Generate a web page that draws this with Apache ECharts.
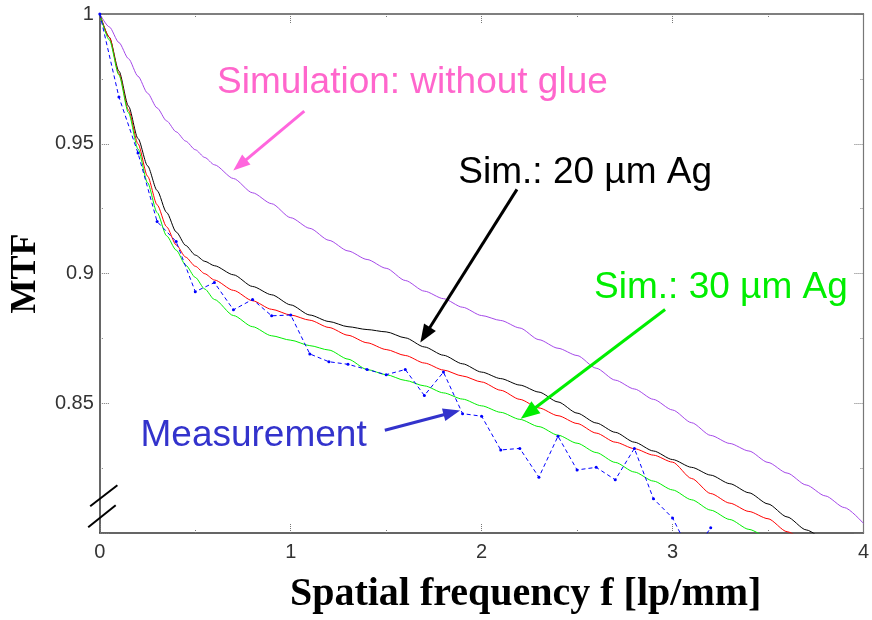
<!DOCTYPE html>
<html>
<head>
<meta charset="utf-8">
<script src="https://cdn.jsdelivr.net/npm/echarts@6/dist/echarts.min.js"></script>
<style>
  html, body { margin: 0; padding: 0; background: #fff; }
  #main { width: 872px; height: 620px; }
</style>
</head>
<body>
<div id="main"></div>
<script>
// spatial frequency grid of the simulations [lp/mm]
var simFreq = [0, 0.05, 0.1, 0.15, 0.2, 0.25, 0.3, 0.35, 0.4, 0.45, 0.5, 0.55, 0.6, 0.7, 0.8, 0.9,
  1.0, 1.1, 1.2, 1.3, 1.4, 1.5, 1.6, 1.7, 1.8, 1.9, 2.0, 2.1, 2.2, 2.3, 2.4, 2.5,
  2.6, 2.7, 2.8, 2.9, 3.0, 3.1, 3.2, 3.3, 3.4, 3.5, 3.6, 3.7, 3.8, 3.9, 4.0];

// Simulation: without glue (purple)
var mtfNoGlue = [1.0, 0.995, 0.989, 0.9828, 0.976, 0.9695, 0.9638, 0.9588, 0.9546, 0.951, 0.9477,
  0.9447, 0.9419, 0.9366, 0.9311, 0.9269, 0.9215, 0.9174, 0.9128, 0.9087, 0.9054, 0.902,
  0.8973, 0.8932, 0.8903, 0.887, 0.8838, 0.8819, 0.879, 0.8745, 0.8712, 0.8684,
  0.8635, 0.8589, 0.8555, 0.8515, 0.8474, 0.8425, 0.8376, 0.8345, 0.8316, 0.8272,
  0.8231, 0.8185, 0.8143, 0.8098, 0.8037];

// Sim.: 20 um Ag (black)
var mtfAg20 = [1.0, 0.991, 0.978, 0.9645, 0.952, 0.9415, 0.932, 0.9235, 0.916, 0.9108, 0.9071,
  0.9047, 0.903, 0.8995, 0.895, 0.8918, 0.8879, 0.884, 0.8815, 0.8795, 0.8784, 0.8775,
  0.8752, 0.8717, 0.8685, 0.8652, 0.862, 0.8595, 0.857, 0.8543, 0.8505, 0.8462,
  0.8424, 0.8388, 0.835, 0.8316, 0.8283, 0.8253, 0.8223, 0.819, 0.8155, 0.8112,
  0.8062, 0.8012, 0.7965];

// red curve (no label)
var mtfRed = [1.0, 0.991, 0.977, 0.963, 0.95, 0.9375, 0.9265, 0.918, 0.911, 0.9063, 0.9028,
  0.8999, 0.8975, 0.8935, 0.8895, 0.8862, 0.884, 0.882, 0.8792, 0.8762, 0.8733, 0.8707,
  0.8684, 0.8655, 0.8628, 0.8605, 0.8582, 0.855, 0.8515, 0.8482, 0.8452, 0.8422,
  0.8385, 0.835, 0.8325, 0.83, 0.8273, 0.821, 0.8152, 0.8115, 0.8083, 0.8055,
  0.8005, 0.796];

// Sim.: 30 um Ag (green)
var mtfAg30 = [1.0, 0.99, 0.9765, 0.962, 0.948, 0.935, 0.9235, 0.9145, 0.909, 0.9032, 0.8985,
  0.894, 0.89, 0.8838, 0.8795, 0.876, 0.8743, 0.8722, 0.8705, 0.867, 0.863, 0.861,
  0.8588, 0.8567, 0.854, 0.8516, 0.849, 0.8465, 0.8438, 0.841, 0.8377, 0.8346,
  0.831, 0.8272, 0.8235, 0.82, 0.8166, 0.8128, 0.8088, 0.8052, 0.8014, 0.7975];

// Measurement (blue dashed)
var measFreq = [0, 0.1, 0.2, 0.3, 0.4, 0.5, 0.6, 0.7, 0.8, 0.9, 1.0, 1.1, 1.2, 1.3, 1.4,
  1.5, 1.6, 1.7, 1.8, 1.9, 2.0, 2.1, 2.2, 2.3, 2.4, 2.5, 2.6, 2.7, 2.8, 2.9, 3.0, 3.1, 3.2];
var mtfMeas = [1.0, 0.968, 0.9464, 0.92, 0.9123, 0.893, 0.8965, 0.886, 0.89, 0.8837,
  0.884, 0.869, 0.866, 0.865, 0.863, 0.861, 0.863, 0.853, 0.862, 0.846,
  0.845, 0.832, 0.8326, 0.8215, 0.8373, 0.8243, 0.8253, 0.8205, 0.8326, 0.8132,
  0.8058, 0.7913, 0.802];

var yTicks = [0.85, 0.9, 0.95, 1];

function pairs(xs, ys) {
  var res = [];
  for (var i = 0; i < ys.length; i++) {
    res.push([xs[i], ys[i]]);
  }
  return res;
}

var chart = echarts.init(document.getElementById('main'), null, { renderer: 'canvas' });

var tickStyle = { color: '#777', width: 1, type: 'dotted' };

function simLine(name, data, color) {
  return {
    name: name,
    type: 'line',
    data: data,
    symbol: 'none',
    smooth: 0.25,
    smoothMonotone: 'x',
    lineStyle: { color: color, width: 1 },
    clip: true,
    z: 3
  };
}

var option = {
  animation: false,
  backgroundColor: '#fff',
  grid: { left: 99, top: 14, right: 4, bottom: 84 },
  xAxis: [{
    type: 'value', min: 0, max: 4, interval: 1,
    name: 'Spatial frequency f [lp/mm]',
    nameLocation: 'middle', nameGap: 42,
    nameTextStyle: { fontFamily: 'Liberation Serif', fontWeight: 'bold', fontSize: 40, color: '#000', padding: [0, 0, 0, 88] },
    axisLine: { lineStyle: { color: '#333', width: 1.5 } },
    axisTick: { inside: true, length: 10, lineStyle: tickStyle },
    minorTick: { show: true, splitNumber: 2, length: 4, lineStyle: tickStyle },
    axisLabel: { fontFamily: 'Liberation Sans', fontSize: 20, color: '#333', margin: 9 },
    splitLine: { show: false }
  }, {
    type: 'value', min: 0, max: 4, interval: 1, position: 'top',
    axisLine: { onZero: false, lineStyle: { color: '#555', width: 1.5 } },
    axisTick: { inside: true, length: 10, lineStyle: tickStyle },
    minorTick: { show: true, splitNumber: 2, length: 4, lineStyle: tickStyle },
    axisLabel: { show: false },
    splitLine: { show: false }
  }],
  yAxis: [{
    type: 'value', min: 0.8, max: 1, interval: 0.05,
    name: 'MTF', nameLocation: 'middle', nameGap: 48, nameRotate: 90,
    nameTextStyle: { fontFamily: 'Liberation Serif', fontWeight: 'bold', fontSize: 36, color: '#000' },
    axisLine: { show: true, onZero: false, lineStyle: { color: '#333', width: 1.5 } },
    axisTick: { show: true, inside: true, length: 10, lineStyle: tickStyle },
    minorTick: { show: true, splitNumber: 2, length: 4, lineStyle: tickStyle },
    axisLabel: {
      fontFamily: 'Liberation Sans', fontSize: 20, color: '#333', margin: 6,
      formatter: function (v) {
        for (var i = 0; i < yTicks.length; i++) {
          if (Math.abs(v - yTicks[i]) < 1e-6) return String(yTicks[i]);
        }
        return '';
      }
    },
    splitLine: { show: false }
  }, {
    type: 'value', min: 0.8, max: 1, interval: 0.05, position: 'right',
    axisLine: { show: true, onZero: false, lineStyle: { color: '#777', width: 1.2 } },
    axisTick: { show: true, inside: true, length: 10, lineStyle: tickStyle },
    minorTick: { show: true, splitNumber: 2, length: 4, lineStyle: tickStyle },
    axisLabel: { show: false },
    splitLine: { show: false }
  }],
  series: [
    simLine('Simulation: without glue', pairs(simFreq, mtfNoGlue), '#a448e8'),
    simLine('Sim.: 20 µm Ag', pairs(simFreq, mtfAg20), '#000000'),
    simLine('Sim. (red)', pairs(simFreq, mtfRed), '#ff0000'),
    simLine('Sim.: 30 µm Ag', pairs(simFreq, mtfAg30), '#00ee00'),
    {
      name: 'Measurement',
      type: 'line',
      data: pairs(measFreq, mtfMeas),
      symbol: 'circle',
      symbolSize: 3,
      itemStyle: { color: '#0000ff' },
      lineStyle: { color: '#0000ff', width: 1, type: [4, 3] },
      clip: true,
      z: 4
    }
  ]
};
chart.setOption(option);

// annotations (arrows and texts) placed in data coordinates
function px(p) {
  return chart.convertToPixel({ gridIndex: 0 }, p);
}

function arrow(from, to, color, width, headLen, headW) {
  var a = px(from), b = px(to);
  var dx = b[0] - a[0], dy = b[1] - a[1];
  var len = Math.sqrt(dx * dx + dy * dy);
  var ux = dx / len, uy = dy / len;
  var bx = b[0] - ux * headLen, by = b[1] - uy * headLen;
  return [{
    type: 'line',
    shape: { x1: a[0], y1: a[1], x2: bx + ux * 2, y2: by + uy * 2 },
    style: { stroke: color, lineWidth: width },
    z: 10
  }, {
    type: 'polygon',
    shape: { points: [[b[0], b[1]], [bx - uy * headW / 2, by + ux * headW / 2], [bx + uy * headW / 2, by - ux * headW / 2]] },
    style: { fill: color },
    z: 10
  }];
}

function label(text, at, color, size) {
  var p = px(at);
  return {
    type: 'text',
    x: p[0], y: p[1],
    style: {
      text: text, fill: color,
      font: size + 'px "Liberation Sans", Arial, sans-serif',
      textAlign: 'left', textVerticalAlign: 'bottom'
    },
    z: 10
  };
}

function slash(from, to) {
  var a = px(from), b = px(to);
  return {
    type: 'line',
    shape: { x1: a[0], y1: a[1], x2: b[0], y2: b[1] },
    style: { stroke: '#000', lineWidth: 2 },
    z: 10
  };
}

var g = [];
g = g.concat(arrow([1.071, 0.9626], [0.699, 0.9397], '#ff66dd', 3, 17, 13));
g = g.concat(arrow([2.185, 0.9324], [1.679, 0.8734], '#000000', 3, 18, 14));
g = g.concat(arrow([2.961, 0.8861], [2.205, 0.844], '#00ee00', 3, 19, 15));
g = g.concat(arrow([1.493, 0.8396], [1.887, 0.8472], '#3333cc', 3, 17, 13));
g.push(label('Simulation: without glue', [0.614, 0.9665], '#ff66cc', 37));
g.push(label('Sim.: 20 µm Ag', [1.878, 0.9315], '#000000', 37));
g.push(label('Sim.: 30 µm Ag', [2.589, 0.8873], '#00ee00', 37));
g.push(label('Measurement', [0.213, 0.8303], '#3333cc', 37));
g.push(slash([-0.0505, 0.8103], [0.092, 0.8184]));
g.push(slash([-0.0609, 0.8022], [0.0832, 0.8107]));

chart.setOption({ graphic: { elements: g } });
window.onresize = chart.resize;
</script>
</body>
</html>
